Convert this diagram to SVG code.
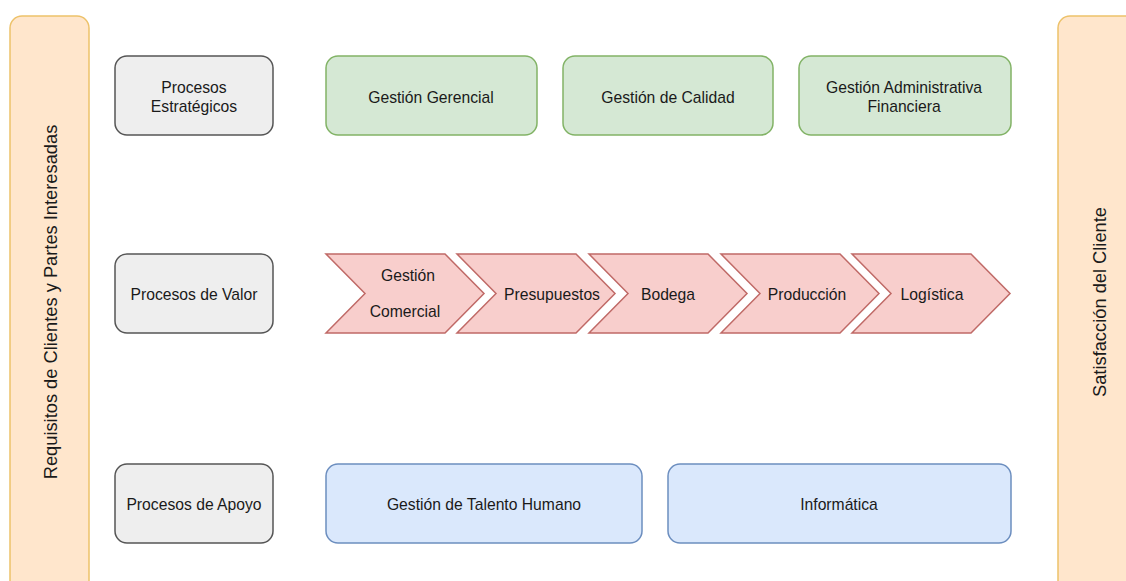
<svg xmlns="http://www.w3.org/2000/svg" width="1126" height="581" viewBox="0 0 1126 581">
  <style>
    text { font-family: "Liberation Sans", Arial, sans-serif; font-size: 15.7px; fill: #1a1a1a; text-anchor: middle; dominant-baseline: central; }
    text.side { font-size: 18.3px; }
    .band { fill: #ffe6cc; stroke: #edc26a; stroke-width: 1.5; }
    .gray { fill: #eeeeee; stroke: #555555; stroke-width: 1.5; }
    .green { fill: #d5e8d4; stroke: #82b366; stroke-width: 1.5; }
    .blue { fill: #dae8fc; stroke: #6c8ebf; stroke-width: 1.5; }
    .red { fill: #f8cecc; stroke: #c06a67; stroke-width: 1.5; }
  </style>
  <rect width="1126" height="581" fill="#ffffff"/>

  <!-- side bands -->
  <g id="requisitos">
    <rect class="band" x="10" y="16" width="79" height="580" rx="12"/>
    <text class="side" transform="translate(50 302) rotate(-90)">Requisitos de Clientes y Partes Interesadas</text>
  </g>
  <g id="satisfaccion">
    <rect class="band" x="1058" y="16" width="90" height="580" rx="12"/>
    <text class="side" transform="translate(1099 302) rotate(-90)">Satisfacción del Cliente</text>
  </g>

  <!-- row headers -->
  <g id="procesos-estrategicos">
    <rect class="gray" x="115" y="56" width="158" height="79" rx="12"/>
    <text x="194" y="87">Procesos</text>
    <text x="194" y="106">Estratégicos</text>
  </g>
  <g id="procesos-valor">
    <rect class="gray" x="115" y="254" width="158" height="79" rx="12"/>
    <text x="194" y="294">Procesos de Valor</text>
  </g>
  <g id="procesos-apoyo">
    <rect class="gray" x="115" y="464" width="158" height="79" rx="12"/>
    <text x="194" y="504">Procesos de Apoyo</text>
  </g>

  <!-- strategic processes -->
  <g id="gestion-gerencial">
    <rect class="green" x="326" y="56" width="211" height="79" rx="12"/>
    <text x="431" y="97">Gestión Gerencial</text>
  </g>
  <g id="gestion-calidad">
    <rect class="green" x="563" y="56" width="210" height="79" rx="12"/>
    <text x="668" y="97">Gestión de Calidad</text>
  </g>
  <g id="gestion-administrativa">
    <rect class="green" x="799" y="56" width="212" height="79" rx="12"/>
    <text x="904" y="87">Gestión Administrativa</text>
    <text x="904" y="106">Financiera</text>
  </g>

  <!-- value chain -->
  <g id="gestion-comercial">
    <polygon class="red" points="326,254 445,254 484,293.5 445,333 326,333 365,293.5"/>
    <text x="408" y="275">Gestión</text>
    <text x="405" y="311">Comercial</text>
  </g>
  <g id="presupuestos">
    <polygon class="red" points="457,254 576,254 615,293.5 576,333 457,333 496,293.5"/>
    <text x="552" y="294">Presupuestos</text>
  </g>
  <g id="bodega">
    <polygon class="red" points="589,254 708,254 747,293.5 708,333 589,333 628,293.5"/>
    <text x="668" y="294">Bodega</text>
  </g>
  <g id="produccion">
    <polygon class="red" points="721,254 840,254 879,293.5 840,333 721,333 760,293.5"/>
    <text x="807" y="294">Producción</text>
  </g>
  <g id="logistica">
    <polygon class="red" points="852,254 971,254 1010,293.5 971,333 852,333 891,293.5"/>
    <text x="932" y="294">Logística</text>
  </g>

  <!-- support processes -->
  <g id="talento-humano">
    <rect class="blue" x="326" y="464" width="316" height="79" rx="12"/>
    <text x="484" y="504">Gestión de Talento Humano</text>
  </g>
  <g id="informatica">
    <rect class="blue" x="668" y="464" width="343" height="79" rx="12"/>
    <text x="839" y="504">Informática</text>
  </g>

  <g id="connectors"/>
</svg>
